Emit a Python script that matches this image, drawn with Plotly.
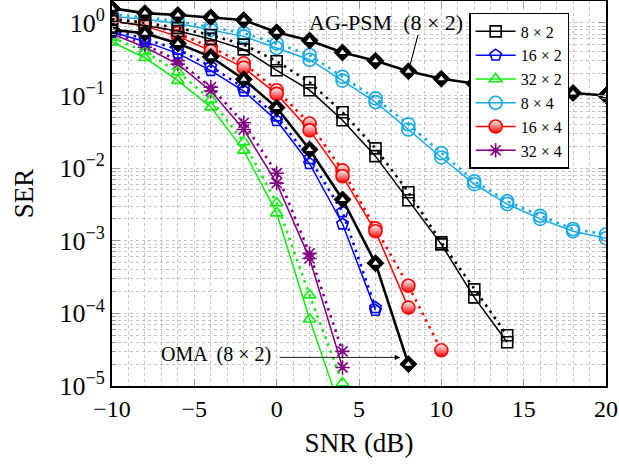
import numpy as np
import plotly.graph_objects as go

# ---------------- data ----------------
snr = [-10, -8, -6, -4, -2, 0, 2, 4, 6, 8, 10, 12, 14, 16, 18, 20]

ag_psm_8x2 = [1.58, 1.36, 1.28, 1.19, 1.09, 0.74, 0.57, 0.39, 0.30, 0.215, 0.17, 0.146, 0.13, 0.118, 0.108, 0.10]
oma_8x2 = [0.80, 0.72, 0.52, 0.34, 0.167, 0.068, 0.018, 0.0037, 4.9e-4, 2.0e-5]

s8x2_solid = [1.05, 0.92, 0.77, 0.60, 0.43, 0.222, 0.118, 0.0455, 0.0146, 0.0036, 8.9e-4, 1.66e-4, 4.0e-5]
s8x2_dot = [1.12, 1.00, 0.85, 0.68, 0.50, 0.296, 0.152, 0.0587, 0.0187, 0.00464, 9.5e-4, 2.14e-4, 5.0e-5]

s16x2_solid = [0.75, 0.55, 0.38, 0.22, 0.115, 0.045, 0.0115, 0.0017, 1.1e-4]
s16x2_dot = [0.80, 0.60, 0.43, 0.25, 0.128, 0.052, 0.0135, 0.0025, 1.2e-4]

s32x2_solid = [0.54, 0.33, 0.16, 0.069, 0.0175, 0.0024, 8.3e-5, 4.0e-6]
s32x2_dot = [0.63, 0.40, 0.21, 0.088, 0.0228, 0.0033, 1.78e-4, 1.1e-5]

s8x4_solid = [1.22, 1.12, 0.98, 0.80, 0.65, 0.45, 0.31, 0.16, 0.081, 0.034, 0.014, 0.0060, 0.0032, 0.0020, 0.00135, 0.00108]
s8x4_dot = [1.30, 1.20, 1.05, 0.88, 0.72, 0.52, 0.36, 0.18, 0.091, 0.040, 0.016, 0.0066, 0.0035, 0.0022, 0.00145, 0.00122]

s16x4_solid = [1.05, 0.90, 0.65, 0.41, 0.24, 0.105, 0.033, 0.0077, 0.00135, 1.2e-4]
s16x4_dot = [1.15, 0.99, 0.72, 0.46, 0.277, 0.118, 0.041, 0.0093, 0.00148, 2.4e-4, 3.1e-5]

s32x4_solid = [0.70, 0.46, 0.27, 0.115, 0.034, 0.0062, 5.7e-4, 1.8e-5]
s32x4_dot = [0.76, 0.50, 0.30, 0.130, 0.042, 0.0085, 6.7e-4, 3.0e-5]

x_ticks = [-10, -5, 0, 5, 10, 15, 20]
y_ticks = [1e-5, 1e-4, 1e-3, 1e-2, 1e-1, 1]
y_ticktext = ["10<sup>−5</sup>", "10<sup>−4</sup>", "10<sup>−3</sup>",
              "10<sup>−2</sup>", "10<sup>−1</sup>", "10<sup>0</sup>"]

# ---------------- style ----------------
FONT = "Liberation Serif"
BLACK = "#000000"
BLUE = "#0000FF"
GREEN = "#10EE10"
LBLUE = "#14A9E6"
RED = "#FF0000"
PURPLE = "#800080"
DOT = "2.5px,5px"

fig = go.Figure()

def add_pair(name, solid, dot, color, marker, rank):
    n_s = len(solid)
    n_d = len(dot)
    fig.add_trace(go.Scatter(
        x=snr[:n_d], y=dot, mode="lines+markers", showlegend=False,
        line=dict(color=color, width=2.6, dash=DOT),
        marker=marker, hoverinfo="skip"))
    fig.add_trace(go.Scatter(
        x=snr[:n_s], y=solid, mode="lines+markers", name=name, legendrank=rank,
        line=dict(color=color, width=1.5),
        marker=marker))

mk_sq = dict(symbol="square-open", size=11, color=BLACK, line=dict(width=1.6, color=BLACK))
mk_pent = dict(symbol="pentagon-open", size=12, color=BLUE, line=dict(width=1.6, color=BLUE))
mk_tri = dict(symbol="triangle-up-open", size=11, color=GREEN, line=dict(width=1.6, color=GREEN))
mk_circ = dict(symbol="circle-open", size=13, color=LBLUE, line=dict(width=1.6, color=LBLUE))
mk_half = dict(symbol="circle", size=13, color="white",
               gradient=dict(type="vertical", color=RED),
               line=dict(width=1.6, color=RED))
mk_ast = dict(symbol="asterisk-open", size=12, color=PURPLE, line=dict(width=1.6, color=PURPLE))

add_pair("8 × 4", s8x4_solid, s8x4_dot, LBLUE, mk_circ, 4)
add_pair("16 × 4", s16x4_solid, s16x4_dot, RED, mk_half, 5)
add_pair("32 × 4", s32x4_solid, s32x4_dot, PURPLE, mk_ast, 6)
add_pair("32 × 2", s32x2_solid, s32x2_dot, GREEN, mk_tri, 3)
add_pair("16 × 2", s16x2_solid, s16x2_dot, BLUE, mk_pent, 2)
add_pair("8 × 2", s8x2_solid, s8x2_dot, BLACK, mk_sq, 1)

for vals in (ag_psm_8x2, oma_8x2):
    xs = snr[:len(vals)]
    fig.add_trace(go.Scatter(
        x=xs, y=vals, mode="lines+markers", showlegend=False,
        line=dict(color=BLACK, width=2.6),
        marker=dict(symbol="diamond", size=13, color=BLACK, line=dict(width=1, color=BLACK))))
    fig.add_trace(go.Scatter(
        x=xs, y=vals, mode="markers", showlegend=False, hoverinfo="skip",
        marker=dict(symbol="triangle-up", size=6, color="white", line=dict(width=0))))

# annotations
fig.add_annotation(x=8, y=np.log10(ag_psm_8x2[9]), ax=10, ay=-38, text="",
                   showarrow=True, arrowhead=0, arrowwidth=1.1, arrowcolor=BLACK, standoff=3)
fig.add_annotation(xref="paper", yref="paper", x=0.555, y=0.945, text="AG-PSM  (8 × 2)",
                   showarrow=False, font=dict(family=FONT, size=22, color=BLACK),
                   xanchor="center", yanchor="middle", bgcolor="rgba(255,255,255,0)")
fig.add_annotation(x=7.5, y=-4.606, ax=-122, ay=0, text="",
                   showarrow=True, arrowhead=2, arrowsize=1.2, arrowwidth=0.9, arrowcolor=BLACK)
fig.add_annotation(x=-3.7, y=-4.56, text="OMA  (8 × 2)", showarrow=False,
                   font=dict(family=FONT, size=20, color=BLACK))

grid = "#c4c4c4"
fig.update_xaxes(
    range=[-10, 20], tickvals=x_ticks, ticks="inside", ticklen=7, tickcolor="#999",
    tickwidth=1.2, mirror="allticks", showline=True, linecolor=BLACK, linewidth=2,
    showgrid=True, gridcolor=grid, griddash="dot", gridwidth=1, zeroline=False,
    minor=dict(dtick=1, showgrid=True, gridcolor=grid, griddash="dot", gridwidth=1, ticks=""),
    tickfont=dict(family=FONT, size=24, color=BLACK), automargin=False,
    title=dict(text="SNR (dB)", font=dict(family=FONT, size=27, color=BLACK), standoff=12),
)
fig.update_yaxes(
    type="log", range=[-5, 0.3], tickvals=y_ticks, ticktext=y_ticktext,
    ticks="inside", ticklen=8, tickcolor="#999", tickwidth=1.2, mirror="allticks",
    showline=True, linecolor=BLACK, linewidth=2,
    showgrid=True, gridcolor=grid, griddash="dot", gridwidth=1,
    minor=dict(dtick="D1", showgrid=True, gridcolor=grid, griddash="dot", gridwidth=1,
               ticks="inside", ticklen=4, tickcolor="#999"),
    tickfont=dict(family=FONT, size=26, color=BLACK), automargin=False,
    title=dict(text="SER", font=dict(family=FONT, size=27, color=BLACK), standoff=18),
)

fig.update_layout(
    width=619, height=470,
    margin=dict(l=112, r=13, t=1, b=84),
    paper_bgcolor="white", plot_bgcolor="white",
    legend=dict(x=0.723, y=0.969, xanchor="left", yanchor="top",
                bgcolor="white", bordercolor=BLACK, borderwidth=1.5,
                font=dict(family=FONT, size=16, color=BLACK),
                tracegroupgap=0, itemwidth=40),
    showlegend=True,
)

fig.write_html("out.html", config={"displayModeBar": False},
               post_script="document.body.style.margin='0';")
